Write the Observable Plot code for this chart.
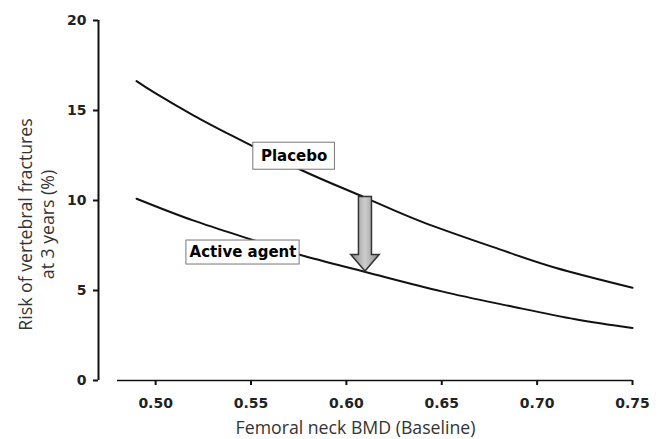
<!DOCTYPE html>
<html><head><meta charset="utf-8">
<script src="https://cdn.jsdelivr.net/npm/d3@7"></script>
<script src="https://cdn.jsdelivr.net/npm/@observablehq/plot@0.6"></script>
<style>body{margin:0;background:#fff}</style>
</head><body><div id="chart"></div>
<script>
// Femoral neck BMD (baseline) vs 3-year vertebral fracture risk (%)
const placeboBMD  = [0.49, 0.50, 0.52, 0.54, 0.576, 0.61, 0.64, 0.68, 0.71, 0.75];
const placeboRisk = [16.63, 15.95, 14.72, 13.6, 11.71, 10.15, 8.8, 7.3, 6.25, 5.15];
const activeBMD   = [0.49, 0.52, 0.55, 0.576, 0.61, 0.65, 0.685, 0.72, 0.75];
const activeRisk  = [10.1, 8.88, 7.84, 6.97, 6.03, 4.95, 4.15, 3.4, 2.92];
const xTicks = [0.50, 0.55, 0.60, 0.65, 0.70, 0.75];
const yTicks = [0, 5, 10, 15, 20];
const labelNames = ["Placebo", "Active agent"];
const labelBMD = [0.5726, 0.5458];
const labelRisk = [12.46, 7.11];
const arrowBMD = [0.61];
const arrowFrom = [10.2];
const arrowTo = [6.05];

const rows = [
  ...placeboBMD.map((b, i) => ({group: "Placebo", bmd: b, risk: placeboRisk[i]})),
  ...activeBMD.map((b, i) => ({group: "Active agent", bmd: b, risk: activeRisk[i]}))
];
const labels = labelNames.map((n, i) => ({name: n, bmd: labelBMD[i], risk: labelRisk[i]}));
const arrows = arrowBMD.map((b, i) => ({bmd: b, from: arrowFrom[i], to: arrowTo[i]}));

function blockArrow(index, scales) {
  const {x, y} = scales;
  const g = d3.create("svg:g");
  const grad = g.append("defs").append("linearGradient")
    .attr("id", "arrowGrad").attr("x1", "0").attr("x2", "1").attr("y1", "0").attr("y2", "0");
  grad.append("stop").attr("offset", "0").attr("stop-color", "#8a8a8a");
  grad.append("stop").attr("offset", "0.5").attr("stop-color", "#cdcdcd");
  grad.append("stop").attr("offset", "1").attr("stop-color", "#8a8a8a");
  for (const a of arrows) {
    const cx = x(a.bmd), top = y(a.from), tip = y(a.to);
    const sw = 6.5, hw = 14.3, hh = 16.7;
    const p = d3.path();
    p.moveTo(cx - sw, top); p.lineTo(cx + sw, top); p.lineTo(cx + sw, tip - hh);
    p.lineTo(cx + hw, tip - hh); p.lineTo(cx, tip); p.lineTo(cx - hw, tip - hh);
    p.lineTo(cx - sw, tip - hh); p.closePath();
    g.append("path").attr("d", p.toString())
      .attr("fill", "url(#arrowGrad)").attr("stroke", "#333").attr("stroke-width", 1.5)
      .attr("stroke-linejoin", "miter");
  }
  return g.node();
}

const boxStyle = {fill: "white", stroke: "#777", strokeWidth: 1};
const chart = Plot.plot({
  width: 662, height: 439,
  marginLeft: 117, marginRight: 30, marginTop: 20, marginBottom: 59,
  style: {fontFamily: "DejaVu Sans", background: "white", color: "#111"},
  x: {domain: [0.48, 0.75]},
  y: {domain: [0, 20]},
  marks: [
    Plot.ruleY([0], {strokeWidth: 1.7, stroke: "#111"}),
    Plot.ruleX([0.48], {x: d => d, y1: 0, y2: 20, dx: -19, strokeWidth: 2, stroke: "#111"}),
    Plot.axisY({ticks: yTicks, tickSize: 5, tickPadding: 7, dx: -19, strokeWidth: 2,
      fontSize: 14, fontWeight: "bold", label: null, fill: "#222"}),
    Plot.axisX({ticks: xTicks, tickSize: 5, tickPadding: 13, strokeWidth: 2,
      tickFormat: d3.format(".2f"), fontSize: 14, fontWeight: "bold", label: null, fill: "#222"}),
    Plot.line(rows, {x: "bmd", y: "risk", z: "group", curve: "natural", stroke: "#111", strokeWidth: 2}),
    blockArrow,
    Plot.rect(labels.filter(d => d.name === "Placebo"), {x1: "bmd", x2: "bmd", y1: "risk", y2: "risk",
      insetLeft: -40.8, insetRight: -40.8, insetTop: -13.5, insetBottom: -13.5, ...boxStyle}),
    Plot.rect(labels.filter(d => d.name === "Active agent"), {x1: "bmd", x2: "bmd", y1: "risk", y2: "risk",
      insetLeft: -56.6, insetRight: -56.6, insetTop: -12, insetBottom: -12, ...boxStyle}),
    Plot.text(labels, {x: "bmd", y: "risk", text: "name", fontWeight: "bold", fontSize: 15,
      fontFamily: "DejaVu Sans", fill: "#000"}),
    Plot.text(["Risk of vertebral fractures\nat 3 years (%)"], {text: d => d, frameAnchor: "left",
      textAnchor: "middle", lineAnchor: "middle",
      rotate: -90, dx: -82, dy: 24, fontSize: 17.7, lineHeight: 1.25, fontFamily: "Open Sans", fill: "#333"}),
    Plot.text(["Femoral neck BMD (Baseline)"], {text: d => d, frameAnchor: "bottom",
      textAnchor: "middle", lineAnchor: "middle",
      dx: -19.5, dy: 48, fontSize: 17.7, fontFamily: "Open Sans", fill: "#333"})
  ]
});
document.getElementById("chart").appendChild(chart);
</script>
</body></html>
